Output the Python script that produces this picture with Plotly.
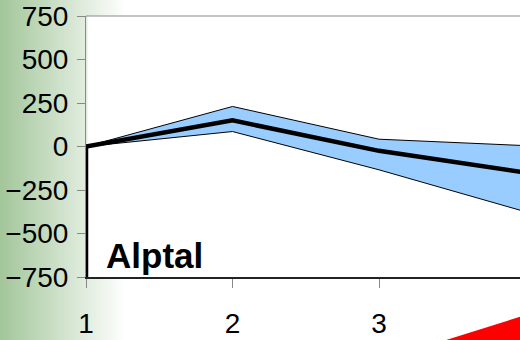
import plotly.graph_objects as go

# Series
steps = [1, 2, 3, 4]
mean_vals = [0, 150, -25, -150]
upper_vals = [0, 230, 42, 5]
lower_vals = [0, 86, -134, -375]
drop_x = [1, 1]
drop_y = [0, -750]

y_ticks = [-750, -500, -250, 0, 250, 500, 750]
x_ticks = [1, 2, 3]
site_label = "Alptal"

W, H = 520, 340
ML, MT, MB, MR = 86, 16, 63, 0
PW, PH = W - ML - MR, H - MT - MB


def px(x):
    return (x - ML) / PW


def py(y):
    return (H - MB - y) / PH


fig = go.Figure()

fig.add_trace(go.Scatter(x=steps, y=upper_vals, mode="lines",
                         line=dict(color="black", width=1), showlegend=False))
fig.add_trace(go.Scatter(x=steps, y=lower_vals, mode="lines", fill="tonexty",
                         fillcolor="#99ccff",
                         line=dict(color="black", width=1), showlegend=False))
fig.add_trace(go.Scatter(x=steps, y=mean_vals, mode="lines",
                         line=dict(color="black", width=4.5), showlegend=False))
fig.add_trace(go.Scatter(x=drop_x, y=drop_y, mode="lines", cliponaxis=False,
                         line=dict(color="black", width=4.5), showlegend=False))

shapes = []
# green fade along the left edge of the page (strips overlap to avoid seams)
c0 = (162, 198, 154)
fade_end = 126
step = 2
for x0 in range(0, fade_end, step):
    t = (x0 + step / 2) / fade_end
    col = "rgb(%d,%d,%d)" % tuple(round(c + (255 - c) * t) for c in c0)
    if x0 + step <= ML:
        spans = [(py(H + 2), py(-2))]
    else:
        spans = [(py(H + 2), 0), (1, py(-2))]
    for ya, yb in spans:
        shapes.append(dict(type="rect", xref="paper", yref="paper",
                           x0=px(x0), x1=px(x0 + step + 1.5), y0=ya, y1=yb,
                           fillcolor=col, line=dict(width=0), layer="below"))

# top frame line
shapes.append(dict(type="line", xref="paper", yref="paper", x0=0, x1=px(W),
                   y0=1, y1=1, line=dict(color="#8a8a8a", width=1)))
# red wedge in the lower right corner
shapes.append(dict(type="path", xref="paper", yref="paper",
                   path="M %f %f L %f %f L %f %f Z" % (px(443), py(341), px(521), py(316.5),
                                                       px(521), py(341)),
                   fillcolor="#ff0000", line=dict(width=0)))

fig.update_layout(
    width=W, height=H,
    margin=dict(l=ML, r=MR, t=MT, b=MB, pad=0),
    paper_bgcolor="white", plot_bgcolor="white",
    font=dict(family="Liberation Sans, Arial, sans-serif", size=28, color="black"),
    shapes=shapes,
    annotations=[dict(text="<b>%s</b>" % site_label, xref="paper", yref="paper",
                      x=px(104), y=py(255), xanchor="left", yanchor="middle",
                      showarrow=False, font=dict(size=35, color="black"))],
    xaxis=dict(range=[1, 1 + PW / 146.5], tickvals=x_ticks, showgrid=False,
               zeroline=False, showline=True, linecolor="#222", linewidth=2,
               ticks="outside", ticklen=9, tickcolor="#888", tickwidth=1,
               ticklabelstandoff=11, layer="below traces"),
    yaxis=dict(range=[-750, 750], tickvals=y_ticks, showgrid=False,
               zeroline=False, showline=True, linecolor="#8a8a8a", linewidth=1,
               ticks="outside", ticklen=8, tickcolor="#888", tickwidth=1,
               ticklabelstandoff=3, layer="below traces"),
)

fig.write_html("out.html")
